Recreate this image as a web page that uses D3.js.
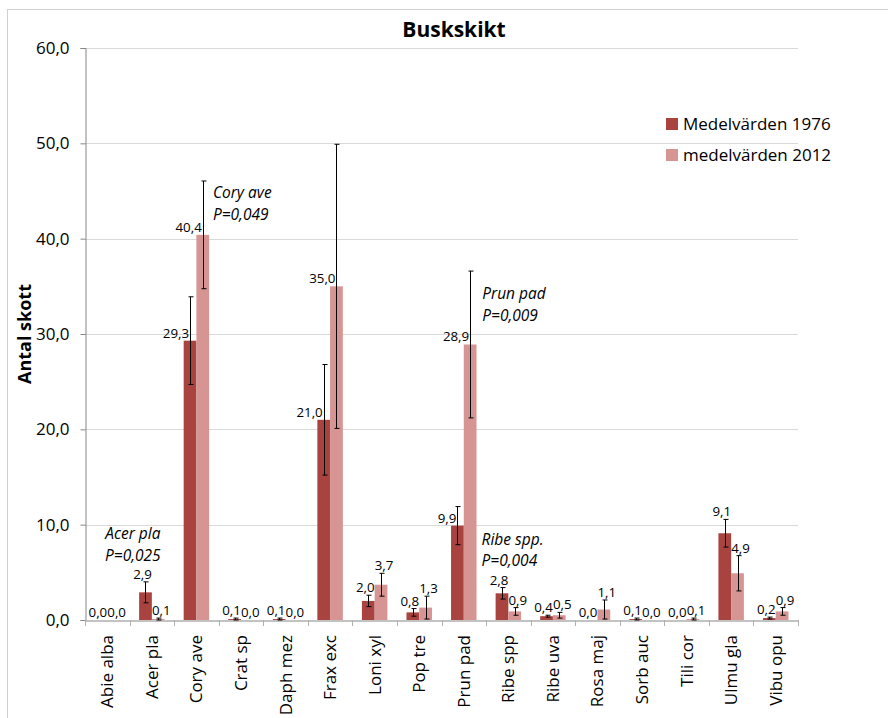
<!DOCTYPE html>
<html>
<head>
<meta charset="utf-8">
<script src="https://cdn.jsdelivr.net/npm/d3@7"></script>
<style>
  html, body { margin: 0; padding: 0; background: #ffffff; }
  svg text { font-family: "Open Sans", Lato, sans-serif; fill: #000; }
</style>
</head>
<body>
<svg id="chart" width="888" height="718"></svg>
<script>
// Species (abbreviated) and mean shoot counts per survey
const categories = ["Abie alba", "Acer pla", "Cory ave", "Crat sp", "Daph mez", "Frax exc",
  "Loni xyl", "Pop tre", "Prun pad", "Ribe spp", "Ribe uva", "Rosa maj", "Sorb auc",
  "Tili cor", "Ulmu gla", "Vibu opu"];
const seriesNames = ["Medelvärden 1976", "medelvärden 2012"];
const values1976 = [0.0, 2.9, 29.3, 0.1, 0.1, 21.0, 2.0, 0.8, 9.9, 2.8, 0.4, 0.0, 0.1, 0.0, 9.1, 0.2];
const values2012 = [0.0, 0.1, 40.4, 0.0, 0.0, 35.0, 3.7, 1.3, 28.9, 0.9, 0.5, 1.1, 0.0, 0.1, 4.9, 0.9];
// Error bar half-widths
const errors1976 = [0, 1.1, 4.6, 0.1, 0.1, 5.8, 0.6, 0.4, 2.0, 0.6, 0.1, 0, 0.1, 0, 1.45, 0.1];
const errors2012 = [0, 0.1, 5.65, 0, 0, 14.9, 1.2, 1.2, 7.7, 0.4, 0.3, 1.0, 0, 0.1, 1.85, 0.4];
const yTicks = [0, 10, 20, 30, 40, 50, 60];
// Significance notes
const notes = [
  { species: "Acer pla", lines: ["Acer pla", "P=0,025"] },
  { species: "Cory ave", lines: ["Cory ave", "P=0,049"] },
  { species: "Prun pad", lines: ["Prun pad", "P=0,009"] },
  { species: "Ribe spp", lines: ["Ribe spp.", "P=0,004"] }
];

const svg = d3.select("#chart");
const colors = ["#a9433f", "#d69492"];
const plot = { left: 85, right: 798, top: 48, bottom: 620 };

const x = d3.scaleBand().domain(categories).range([plot.left, plot.right]).padding(0);
const xs = d3.scaleBand().domain([0, 1]).range([0, x.bandwidth()]).paddingInner(0).paddingOuter(0.75);
const y = d3.scaleLinear().domain([0, 60]).range([plot.bottom, plot.top]);

const sv = d3.formatLocale({ decimal: ",", thousands: " ", grouping: [3], currency: ["", " kr"] });
const fmt = sv.format(".1f");

// chart frame
svg.append("rect").attr("x", 7.5).attr("y", 9.5).attr("width", 900).attr("height", 720)
  .attr("fill", "none").attr("stroke", "#d0d0d0").attr("stroke-width", 1);

// gridlines
svg.append("g").selectAll("line").data(yTicks.filter(d => d > 0)).join("line")
  .attr("x1", plot.left).attr("x2", plot.right)
  .attr("y1", d => Math.round(y(d)) + 0.5).attr("y2", d => Math.round(y(d)) + 0.5)
  .attr("stroke", "#d9d9d9").attr("stroke-width", 1);

// y axis
const yAxis = d3.axisLeft(y).tickValues(yTicks).tickFormat(fmt).tickSize(5).tickPadding(11);
const gy = svg.append("g").attr("transform", `translate(${plot.left + 0.5},0)`).call(yAxis);
gy.select(".domain").attr("stroke", "#868686");
gy.selectAll(".tick line").attr("stroke", "#868686");
gy.selectAll(".tick text").attr("font-size", 17).attr("font-family", "'Open Sans', sans-serif").attr("fill", "#000");

// bars
const series = [
  { name: seriesNames[0], values: values1976, errors: errors1976, idx: 0 },
  { name: seriesNames[1], values: values2012, errors: errors2012, idx: 1 }
];
const items = [];
series.forEach(s => s.values.forEach((v, i) => items.push({
  cat: categories[i], v, e: s.errors[i], s: s.idx
})));
const cx = d => x(d.cat) + xs(d.s) + xs.bandwidth() / 2;

svg.append("g").selectAll("rect").data(items).join("rect")
  .attr("x", d => x(d.cat) + xs(d.s))
  .attr("width", xs.bandwidth())
  .attr("y", d => y(d.v))
  .attr("height", d => y(0) - y(d.v))
  .attr("fill", d => colors[d.s]);

// x axis
const xAxis = d3.axisBottom(x).tickSize(0).tickFormat("");
const gx = svg.append("g").attr("transform", `translate(0,${plot.bottom + 0.5})`).call(xAxis);
gx.select(".domain").attr("stroke", "#868686");
const bounds = categories.map(c => x(c)).concat([plot.right]);
svg.append("g").selectAll("line").data(bounds).join("line")
  .attr("x1", d => Math.round(d) + 0.5).attr("x2", d => Math.round(d) + 0.5)
  .attr("y1", plot.bottom).attr("y2", plot.bottom + 6)
  .attr("stroke", "#b0b0b0");
svg.append("g").selectAll("text").data(categories).join("text")
  .attr("transform", d => `translate(${x(d) + x.bandwidth() / 2 + 6},${plot.bottom + 15}) rotate(-90)`)
  .attr("text-anchor", "end")
  .attr("font-size", 17)
  .text(d => d);

// error bars
const eb = svg.append("g").attr("stroke", "#000").attr("stroke-width", 1);
items.filter(d => d.e > 0).forEach(d => {
  const px = Math.round(cx(d)) + 0.5;
  const top = y(d.v + d.e), bot = y(Math.max(0, d.v - d.e));
  eb.append("line").attr("x1", px).attr("x2", px).attr("y1", top).attr("y2", bot);
  eb.append("line").attr("x1", px - 2).attr("x2", px + 3).attr("y1", top).attr("y2", top);
  eb.append("line").attr("x1", px - 2).attr("x2", px + 3).attr("y1", bot).attr("y2", bot);
});

// value labels: tall bars carry the label beside the error bar, small ones above it
svg.append("g").selectAll("text").data(items).join("text")
  .attr("font-size", 13.3)
  .attr("text-anchor", d => d.v >= 9.5 ? "end" : "middle")
  .attr("x", d => d.v >= 9.5 ? cx(d) - 1 : cx(d) + (d.s === 0 ? -3 : 3))
  .attr("y", d => d.v >= 9.5 ? y(d.v) - 3 : Math.min(y(d.v), y(d.v + d.e)) - 3)
  .text(d => fmt(d.v));

// significance notes
const noteLayout = {
  "Acer pla": { anchor: "middle", dx: -19, base: 8.5, lead: 22 },
  "Cory ave": { anchor: "start", dx: 16.5, base: 44.27, lead: 22 },
  "Prun pad": { anchor: "start", dx: 18.5, base: 33.67, lead: 22 },
  "Ribe spp": { anchor: "start", dx: -4.5, base: 7.9, lead: 21 }
};
notes.forEach(n => {
  const L = noteLayout[n.species];
  const ref = L.anchor === "middle" ? x(n.species) + x.bandwidth() / 2 :
    (n.species === "Ribe spp" ? x(n.species) : x(n.species) + x.bandwidth() / 2);
  const t = svg.append("text")
    .attr("font-size", 15.5).attr("font-style", "italic")
    .attr("text-anchor", L.anchor);
  n.lines.forEach((line, k) => {
    t.append("tspan").attr("x", ref + L.dx).attr("y", y(L.base) + k * L.lead).text(line);
  });
});

// title
svg.append("text").attr("x", 454).attr("y", 37).attr("text-anchor", "middle")
  .attr("font-size", 21).attr("font-weight", "bold").text("Buskskikt");

// y axis title
svg.append("text").attr("transform", "translate(31,334) rotate(-90)")
  .attr("text-anchor", "middle").attr("font-size", 18).attr("font-weight", "bold")
  .text("Antal skott");

// legend
const lg = svg.append("g").attr("transform", "translate(666,118)");
seriesNames.forEach((nm, i) => {
  lg.append("rect").attr("x", 0).attr("y", i * 31).attr("width", 12).attr("height", 12).attr("fill", colors[i]);
  lg.append("text").attr("x", 17).attr("y", i * 31 + 12).attr("font-size", 17).text(nm);
});
</script>
</body>
</html>
